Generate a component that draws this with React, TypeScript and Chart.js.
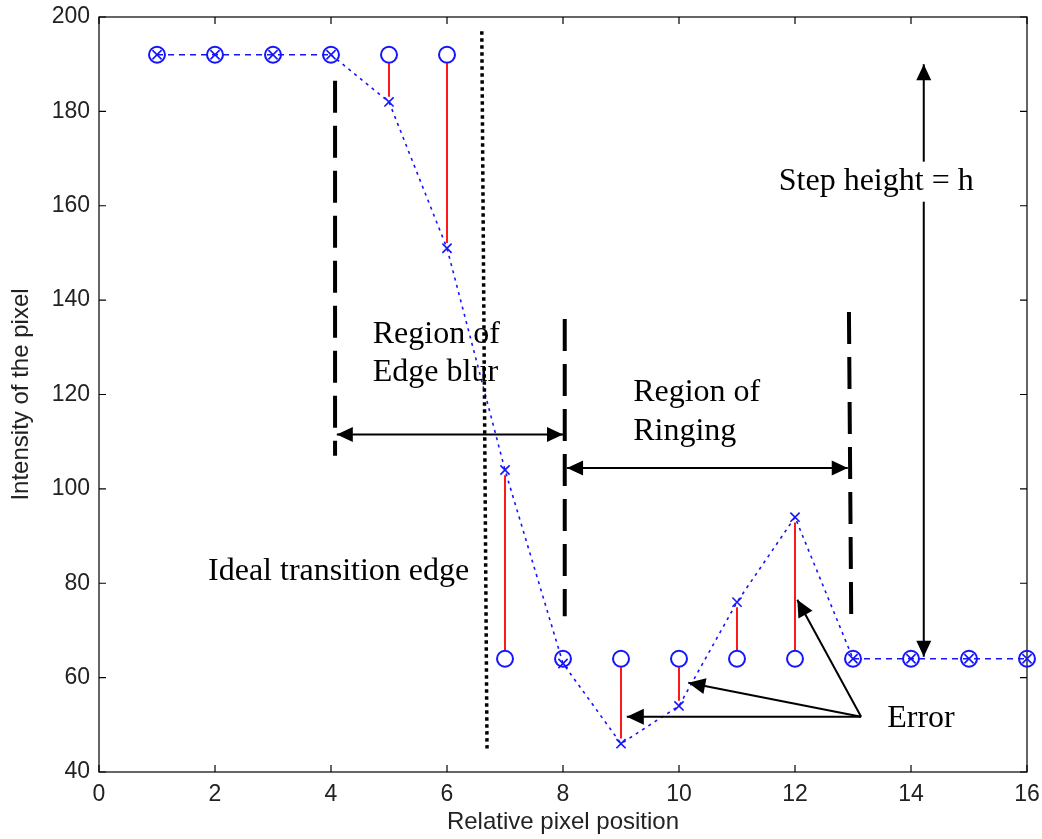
import React, { useEffect, useRef } from 'react';
import { Chart, registerables } from 'chart.js';

Chart.register(...registerables);

// ---- Data ----
const positions = [1, 2, 3, 4, 5, 6, 7, 8, 9, 10, 11, 12, 13, 14, 15, 16];
const originalValues = [192, 192, 192, 192, 192, 192, 64, 64, 64, 64, 64, 64, 64, 64, 64, 64];
const processedValues = [192, 192, 192, 192, 182, 151, 104, 63, 46, 54, 76, 94, 64, 64, 64, 64];
const xTickValues = [0, 2, 4, 6, 8, 10, 12, 14, 16];
const yTickValues = [40, 60, 80, 100, 120, 140, 160, 180, 200];

// ---- Annotations (in data coordinates) ----
const dashedMarkers = [
  { x0: 4.07, x1: 4.07, yTop: 186.5, yBottom: 107 },
  { x0: 8.03, x1: 8.03, yTop: 136, yBottom: 73 },
  { x0: 12.93, x1: 12.97, yTop: 137.5, yBottom: 71.5 },
];
const dottedEdge = { xTop: 6.6, xBottom: 6.69, yTop: 197, yBottom: 45 };
const doubleArrows = [
  { x0: 4.1, y0: 111.5, x1: 8.0, y1: 111.5 },
  { x0: 8.07, y0: 104.4, x1: 12.91, y1: 104.4 },
  { x0: 14.22, y0: 190, x1: 14.22, y1: 64.4 },
];
const errorArrowOrigin = { x: 13.14, y: 51.7 };
const errorArrowTips = [
  { x: 9.1, y: 51.7 },
  { x: 10.16, y: 58.9 },
  { x: 12.04, y: 76.5 },
];
const labels = [
  { text: 'Region of', x: 4.72, y: 132.7, bg: false },
  { text: 'Edge blur', x: 4.72, y: 124.6, bg: false },
  { text: 'Region of', x: 9.21, y: 120.4, bg: false },
  { text: 'Ringing', x: 9.21, y: 112.1, bg: false },
  { text: 'Ideal transition edge', x: 1.88, y: 82.4, bg: false },
  { text: 'Step height = h', x: 11.72, y: 165.1, bg: true },
  { text: 'Error', x: 13.59, y: 51.4, bg: false },
];

const BLUE = '#1414ff';
const TICK_FONT = { family: "'Liberation Sans', Arial, sans-serif", size: 23 };
const TITLE_FONT = { family: "'Liberation Sans', Arial, sans-serif", size: 24 };
const SERIF = "32px 'Liberation Serif', 'Times New Roman', serif";

function drawHead(ctx: CanvasRenderingContext2D, fx: number, fy: number, tx: number, ty: number, len = 16, half = 7.5) {
  const a = Math.atan2(ty - fy, tx - fx);
  ctx.beginPath();
  ctx.moveTo(tx, ty);
  ctx.lineTo(tx - len * Math.cos(a) + half * Math.sin(a), ty - len * Math.sin(a) - half * Math.cos(a));
  ctx.lineTo(tx - len * Math.cos(a) - half * Math.sin(a), ty - len * Math.sin(a) + half * Math.cos(a));
  ctx.closePath();
  ctx.fill();
}

const framePlugin = {
  id: 'frame',
  beforeDatasetsDraw(chart: any) {
    const { ctx, chartArea: ca, scales } = chart;
    ctx.save();
    ctx.strokeStyle = '#000';
    ctx.lineWidth = 1.2;
    ctx.strokeRect(ca.left, ca.top, ca.right - ca.left, ca.bottom - ca.top);
    const tl = 7;
    ctx.beginPath();
    xTickValues.forEach((v) => {
      const p = scales.x.getPixelForValue(v);
      ctx.moveTo(p, ca.bottom);
      ctx.lineTo(p, ca.bottom - tl);
      ctx.moveTo(p, ca.top);
      ctx.lineTo(p, ca.top + tl);
    });
    yTickValues.forEach((v) => {
      const p = scales.y.getPixelForValue(v);
      ctx.moveTo(ca.left, p);
      ctx.lineTo(ca.left + tl, p);
      ctx.moveTo(ca.right, p);
      ctx.lineTo(ca.right - tl, p);
    });
    ctx.stroke();
    ctx.restore();
  },
};

const annotationPlugin = {
  id: 'annotations',
  afterDatasetsDraw(chart: any) {
    const { ctx, scales } = chart;
    const X = (v: number) => scales.x.getPixelForValue(v);
    const Y = (v: number) => scales.y.getPixelForValue(v);
    ctx.save();
    ctx.strokeStyle = '#000';
    ctx.fillStyle = '#000';

    // dotted ideal edge
    ctx.lineWidth = 3.5;
    ctx.setLineDash([3.5, 3.5]);
    ctx.beginPath();
    ctx.moveTo(X(dottedEdge.xTop), Y(dottedEdge.yTop));
    ctx.lineTo(X(dottedEdge.xBottom), Y(dottedEdge.yBottom));
    ctx.stroke();

    // dashed region markers
    ctx.lineWidth = 4;
    ctx.setLineDash([32, 13]);
    dashedMarkers.forEach((m) => {
      ctx.beginPath();
      ctx.moveTo(X(m.x0), Y(m.yTop));
      ctx.lineTo(X(m.x1), Y(m.yBottom));
      ctx.stroke();
    });
    ctx.setLineDash([]);

    // double arrows
    ctx.lineWidth = 2;
    doubleArrows.forEach((a) => {
      const x0 = X(a.x0), y0 = Y(a.y0), x1 = X(a.x1), y1 = Y(a.y1);
      ctx.beginPath();
      ctx.moveTo(x0, y0);
      ctx.lineTo(x1, y1);
      ctx.stroke();
      drawHead(ctx, x0, y0, x1, y1);
      drawHead(ctx, x1, y1, x0, y0);
    });

    // error arrows
    const ox = X(errorArrowOrigin.x), oy = Y(errorArrowOrigin.y);
    errorArrowTips.forEach((t) => {
      const tx = X(t.x), ty = Y(t.y);
      ctx.beginPath();
      ctx.moveTo(ox, oy);
      ctx.lineTo(tx, ty);
      ctx.stroke();
      drawHead(ctx, ox, oy, tx, ty, 17, 8);
    });

    // texts
    ctx.font = SERIF;
    ctx.textBaseline = 'middle';
    ctx.textAlign = 'left';
    labels.forEach((l) => {
      const lx = X(l.x), ly = Y(l.y);
      if (l.bg) {
        const w = ctx.measureText(l.text).width;
        ctx.fillStyle = '#fff';
        ctx.fillRect(lx - 2, ly - 20, w + 4, 40);
      }
      ctx.fillStyle = '#000';
      ctx.fillText(l.text, lx, ly);
    });
    ctx.restore();
  },
};

export default function App() {
  const canvasRef = useRef<HTMLCanvasElement | null>(null);

  useEffect(() => {
    if (!canvasRef.current) return;
    const gapStart = 1.8;
    const gapEnd = 1.1;
    const errorData: any[] = [];
    positions.forEach((p, i) => {
      const o = originalValues[i];
      const v = processedValues[i];
      if (Math.abs(o - v) > 3) {
        const s = v > o ? 1 : -1;
        errorData.push({ x: p, y: o + s * gapStart });
        errorData.push({ x: p, y: v - s * gapEnd });
        errorData.push({ x: p, y: null });
      }
    });

    const chart = new Chart(canvasRef.current, {
      type: 'line',
      data: {
        datasets: [
          {
            label: 'Processed',
            data: positions.map((p, i) => ({ x: p, y: processedValues[i] })),
            borderColor: BLUE,
            borderWidth: 1.6,
            pointStyle: 'crossRot',
            pointRadius: 6.5,
            pointBorderWidth: 1.6,
            pointBorderColor: BLUE,
            backgroundColor: BLUE,
            fill: false,
            tension: 0,
            clip: false,
            segment: {
              borderDash: (c: any) =>
                Math.abs(c.p0.parsed.y - c.p1.parsed.y) < 1 ? [6, 5] : [3, 4.5],
            },
            order: 2,
          } as any,
          {
            label: 'Original',
            data: positions.map((p, i) => ({ x: p, y: originalValues[i] })),
            showLine: false,
            pointStyle: 'circle',
            pointRadius: 8,
            pointBorderWidth: 2,
            pointBorderColor: BLUE,
            pointBackgroundColor: 'rgba(0,0,0,0)',
            clip: false,
            order: 1,
          } as any,
          {
            label: 'Error',
            data: errorData,
            borderColor: '#ff0000',
            borderWidth: 1.8,
            pointRadius: 0,
            spanGaps: false,
            fill: false,
            order: 3,
          } as any,
        ],
      },
      options: {
        responsive: false,
        animation: false,
        layout: { padding: { left: 0, top: 17, right: 15, bottom: 0 } },
        plugins: { legend: { display: false }, tooltip: { enabled: false } },
        scales: {
          x: {
            type: 'linear',
            min: 0,
            max: 16,
            afterBuildTicks: (s: any) => {
              s.ticks = xTickValues.map((v) => ({ value: v }));
            },
            afterFit: (s: any) => {
              s.height = 67;
              s.paddingLeft = 0;
              s.paddingRight = 0;
            },
            ticks: { font: TICK_FONT, color: '#222', padding: 9, maxRotation: 0, autoSkip: false },
            grid: { display: false, drawTicks: false },
            border: { display: false },
            title: {
              display: true,
              text: 'Relative pixel position',
              font: TITLE_FONT,
              color: '#222',
              padding: { top: 0, bottom: 2 },
            },
          },
          y: {
            type: 'linear',
            min: 40,
            max: 200,
            afterBuildTicks: (s: any) => {
              s.ticks = yTickValues.map((v) => ({ value: v }));
            },
            afterFit: (s: any) => {
              s.width = 99;
              s.paddingTop = 0;
              s.paddingBottom = 0;
            },
            ticks: { font: TICK_FONT, color: '#222', padding: 9, autoSkip: false },
            grid: { display: false, drawTicks: false },
            border: { display: false },
            title: {
              display: true,
              text: 'Intensity of the pixel',
              font: TITLE_FONT,
              color: '#222',
              padding: { top: 7, bottom: 0 },
            },
          },
        },
      } as any,
      plugins: [framePlugin, annotationPlugin],
    });
    return () => chart.destroy();
  }, []);

  return (
    <div style={{ position: 'absolute', left: 0, top: 0, width: 1042, height: 839, background: '#fff' }}>
      <canvas ref={canvasRef} width={1042} height={839} style={{ display: 'block' }} />
    </div>
  );
}
